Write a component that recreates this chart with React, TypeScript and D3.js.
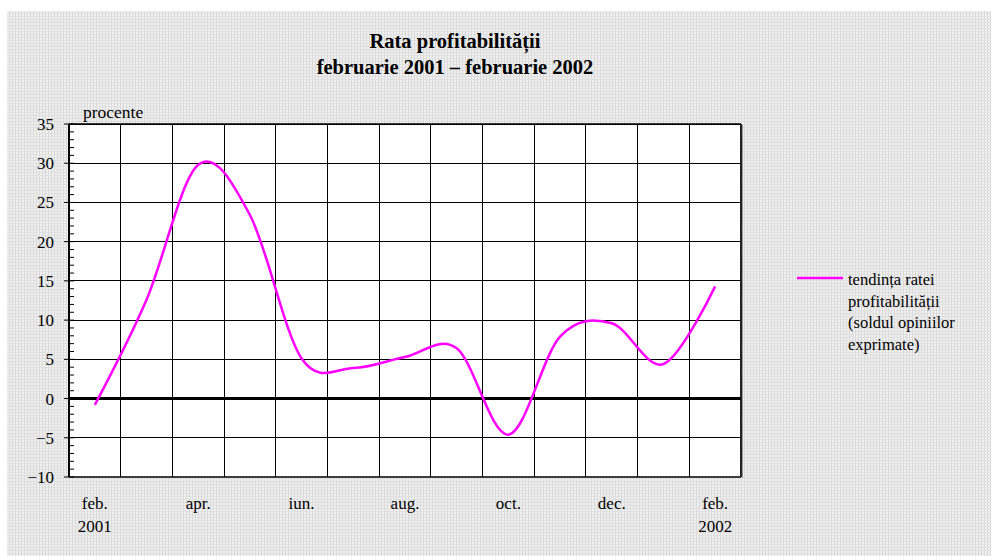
import React from "react";
import * as d3 from "d3";

const months = ["feb.", "mar.", "apr.", "mai", "iun.", "iul.", "aug.", "sep.", "oct.", "nov.", "dec.", "ian.", "feb."];
const labelYears = ["2001", "", "", "", "", "", "", "", "", "", "", "", "2002"];
const shownLabels = [true, false, true, false, true, false, true, false, true, false, true, false, true];
const values = [-0.8, 12.6, 29.8, 23.4, 5.1, 3.9, 5.3, 6.4, -4.6, 7.9, 9.6, 4.4, 14.3];
const yMajorTicks = [-10, -5, 0, 5, 10, 15, 20, 25, 30, 35];
const yMinorTicks = d3.range(-10, 36, 1);
const titleLines = ["Rata profitabilității", "februarie 2001 – februarie 2002"];
const legendLines = ["tendința ratei", "profitabilității", "(soldul opiniilor", "exprimate)"];

const W = 991, H = 556;
const L = 69, R = 741, T = 124, B = 477;
const FONT = "'Liberation Serif', 'Times New Roman', serif";

export default function App() {
  const x = d3.scaleBand<number>().domain(d3.range(months.length)).range([L, R]).paddingInner(0).paddingOuter(0);
  const y = d3.scaleLinear().domain([-10, 35]).range([B, T]);
  const cx = (i: number) => (x(i) as number) + x.bandwidth() / 2;
  const line = d3.line<number>().x((_, i) => cx(i)).y((d) => y(d)).curve(d3.curveCardinal.tension(0));
  const path = line(values) || "";

  return (
    <svg width={W} height={H} style={{ position: "absolute", left: 0, top: 0 }} fontFamily={FONT}>
      <defs>
        <pattern id="dots" width="3" height="3" patternUnits="userSpaceOnUse">
          <rect width="3" height="3" fill="#f0f0f0" />
          <rect x="0" y="0" width="1" height="3" fill="#d9d9d9" />
          <rect x="0" y="1" width="3" height="1" fill="#e0e0e0" />
        </pattern>
      </defs>
      <rect width={W} height={H} fill="#fff" />
      <rect x={7} y={11} width={W - 7} height={H - 11} fill="url(#dots)" />

      {titleLines.map((t, i) => (
        <text key={i} x={455} y={48 + i * 26} textAnchor="middle" fontWeight="bold" fontSize={20.5} fill="#000">{t}</text>
      ))}

      <rect x={L} y={T} width={R - L} height={B - T} fill="#fff" />

      {d3.range(1, months.length).map((i) => (
        <line key={"v" + i} x1={x(i) as number} x2={x(i) as number} y1={T} y2={B} stroke="#000" strokeWidth={1} shapeRendering="crispEdges" />
      ))}
      {yMajorTicks.filter((v) => v !== 0 && v !== -10).map((v) => (
        <line key={"h" + v} x1={L} x2={R} y1={y(v)} y2={y(v)} stroke="#000" strokeWidth={1} shapeRendering="crispEdges" />
      ))}
      <line x1={L} x2={R} y1={T} y2={T} stroke="#000" strokeWidth={1.5} />
      <line x1={L} x2={R} y1={B} y2={B} stroke="#000" strokeWidth={1.5} />
      <line x1={R} x2={R} y1={T} y2={B} stroke="#222" strokeWidth={2} />
      <line x1={R + 1.5} x2={R + 1.5} y1={T + 1} y2={B + 1} stroke="#999" strokeWidth={1} />
      <line x1={L} x2={R} y1={y(0)} y2={y(0)} stroke="#000" strokeWidth={3} />
      <line x1={L} x2={L} y1={T} y2={B} stroke="#000" strokeWidth={2} />
      {yMinorTicks.map((v) => (
        <line key={"m" + v} x1={L} x2={L + 5} y1={y(v)} y2={y(v)} stroke="#000" strokeWidth={1} />
      ))}
      {yMajorTicks.map((v) => (
        <g key={"t" + v}>
          <line x1={L - 5} x2={L} y1={y(v)} y2={y(v)} stroke="#000" strokeWidth={1} />
          <text x={54} y={y(v)} dy="0.35em" textAnchor="end" fontSize={17} fill="#000">
            {v < 0 ? "\u2212" + Math.abs(v) : v}
          </text>
        </g>
      ))}
      <text x={83} y={118} fontSize={17.5} fill="#000">procente</text>

      {months.map((m, i) =>
        shownLabels[i] ? (
          <g key={"x" + i}>
            <text x={cx(i)} y={509} textAnchor="middle" fontSize={17} fill="#000">{m}</text>
            {labelYears[i] && (
              <text x={cx(i)} y={532} textAnchor="middle" fontSize={17} fill="#000">{labelYears[i]}</text>
            )}
          </g>
        ) : null
      )}

      <path d={path} fill="none" stroke="#ff00ff" strokeWidth={2.5} />

      <line x1={797} x2={843} y1={278} y2={278} stroke="#ff00ff" strokeWidth={2.5} />
      {legendLines.map((t, i) => (
        <text key={"l" + i} x={848} y={285 + i * 21.5} fontSize={16.5} fill="#000">{t}</text>
      ))}
    </svg>
  );
}
